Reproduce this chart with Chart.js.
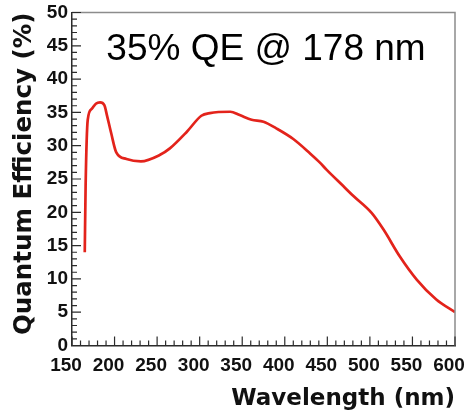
<!DOCTYPE html>
<html>
<head>
<meta charset="utf-8">
<script src="https://cdn.jsdelivr.net/npm/chart.js@4.4.1/dist/chart.umd.min.js"></script>
<style>
  html, body { margin: 0; padding: 0; background: #fff; }
  canvas { display: block; }
</style>
</head>
<body>
<canvas id="qeChart" width="473" height="416"></canvas>
<script>
// photocathode response
const wavelengths = [165, 166, 168.5, 173, 178, 183, 188, 191, 196, 202, 214, 231, 253, 265, 285, 302, 312, 336, 347, 361, 375, 390, 410, 430, 441, 449, 469, 481, 502, 516, 535, 555, 578, 600];
const efficiency = [14.0, 24.0, 33.9, 35.5, 36.3, 36.5, 36.1, 34.6, 31.9, 29.0, 28.0, 27.65, 28.6, 29.6, 32.1, 34.5, 34.9, 35.1, 34.6, 33.9, 33.6, 32.6, 31.0, 28.8, 27.5, 26.4, 23.9, 22.4, 19.9, 17.4, 13.4, 9.9, 6.9, 5.0];

const xTicks = [150, 200, 250, 300, 350, 400, 450, 500, 550, 600];
const yTicks = [0, 5, 10, 15, 20, 25, 30, 35, 40, 45, 50];

const peakQE = 35;
const peakNm = 178;

const tickFont = { family: "'Liberation Sans', Arial, sans-serif", size: 19, weight: "bold" };
const titleFamily = "'DejaVu Sans', Verdana, sans-serif";
const axisColor = "#2b2b2b";

// inward major/minor tick marks, gray frame on top and right, headline text
const frameTicks = {
  id: "frameTicks",
  afterDraw(chart) {
    const { ctx, chartArea: a, scales } = chart;
    ctx.save();
    ctx.strokeStyle = "#8c8c8c";
    ctx.lineWidth = 1.5;
    ctx.beginPath();
    ctx.moveTo(a.left, a.top);
    ctx.lineTo(a.right, a.top);
    ctx.lineTo(a.right, a.bottom);
    ctx.stroke();

    ctx.strokeStyle = axisColor;
    ctx.lineWidth = 1.2;
    ctx.beginPath();
    for (let v = xTicks[0]; v <= xTicks[xTicks.length - 1]; v += 10) {
      const px = scales.x.getPixelForValue(v);
      const len = (v - xTicks[0]) % 50 === 0 ? 9 : 5;
      ctx.moveTo(px, a.bottom);
      ctx.lineTo(px, a.bottom - len);
    }
    for (let v = yTicks[0]; v <= yTicks[yTicks.length - 1]; v += 1) {
      const py = scales.y.getPixelForValue(v);
      const len = v % 5 === 0 ? 9 : 5;
      ctx.moveTo(a.left, py);
      ctx.lineTo(a.left + len, py);
    }
    ctx.stroke();

    ctx.fillStyle = "#000";
    ctx.font = "37px 'Liberation Sans', Arial, sans-serif";
    ctx.textAlign = "center";
    ctx.textBaseline = "alphabetic";
    ctx.fillText(peakQE + "% QE @ " + peakNm + " nm", a.left + 194, a.top + 47.5);
    ctx.restore();
  }
};

const ctx = document.getElementById("qeChart").getContext("2d");
const qeChart = new Chart(ctx, {
  type: "line",
  data: {
    datasets: [
      {
        data: wavelengths.map((w, i) => ({ x: w, y: efficiency[i] })),
        borderColor: "#e3231b",
        borderWidth: 2.7,
        pointRadius: 0,
        fill: false,
        cubicInterpolationMode: "monotone",
      },
    ],
  },
  options: {
    responsive: false,
    animation: false,
    devicePixelRatio: 1,
    layout: { padding: { top: 12.5, right: 18, left: 0, bottom: 0 } },
    plugins: {
      legend: { display: false },
      tooltip: { enabled: false },
    },
    scales: {
      x: {
        type: "linear",
        min: 150,
        max: 600,
        afterBuildTicks: (scale) => { scale.ticks = xTicks.map((v) => ({ value: v })); },
        afterFit: (scale) => {
          scale.height = 70.5;
          scale.paddingLeft = 0;
          scale.paddingRight = 0;
        },
        grid: { display: false, drawTicks: false },
        border: { display: true, color: axisColor, width: 1.5 },
        ticks: { color: "#111", font: tickFont, padding: 9, labelOffset: -6, maxRotation: 0, autoSkip: false },
        title: {
          display: true,
          text: "Wavelength (nm)",
          align: "end",
          color: "#111",
          font: { family: titleFamily, size: 23, weight: "bold" },
          padding: { top: 0, bottom: 3 },
        },
      },
      y: {
        min: 0,
        max: 50,
        afterBuildTicks: (scale) => { scale.ticks = yTicks.map((v) => ({ value: v })); },
        afterFit: (scale) => {
          scale.width = 72;
          scale.paddingTop = 0;
          scale.paddingBottom = 0;
        },
        grid: { display: false, drawTicks: false },
        border: { display: true, color: axisColor, width: 1.5 },
        ticks: { color: "#111", font: tickFont, padding: 4, autoSkip: false },
        title: {
          display: true,
          text: "Quantum Efficiency (%)",
          align: "end",
          color: "#111",
          font: { family: titleFamily, size: 24.5, weight: "bold" },
          padding: { top: 10, bottom: 0 },
        },
      },
    },
  },
  plugins: [frameTicks],
});
</script>
</body>
</html>
